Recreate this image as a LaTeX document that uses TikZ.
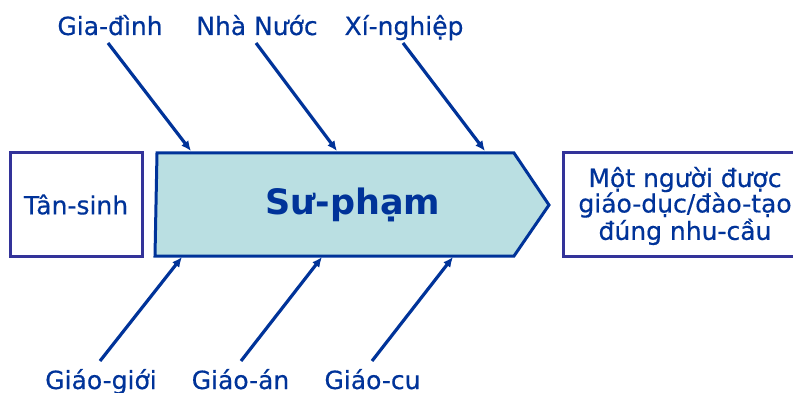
\documentclass[tikz,border=0pt]{standalone}
\usepackage{fontspec}
\setmainfont{DejaVu Sans}[UprightFeatures={FakeBold=0.5}]
\usetikzlibrary{arrows.meta}
\definecolor{txtblue}{RGB}{0,51,153}
\definecolor{boxpurple}{RGB}{51,51,153}
\definecolor{lightfill}{RGB}{186,223,226}
\tikzset{
  lbl/.style={text=txtblue, font=\fontsize{25}{25}\selectfont, inner sep=0pt, anchor=base},
  arr/.style={draw=txtblue, line width=3.2pt, -{Latex[length=10pt,width=9pt]}},
  sidebox/.style={draw=boxpurple, line width=3pt, fill=white}
}
\begin{document}
\begin{tikzpicture}[x=1pt,y=-1pt]
\useasboundingbox (0,0) rectangle (793,393);
% side boxes
\node[sidebox, minimum width=132pt, minimum height=103pt, inner sep=0pt,
      text=txtblue, font=\fontsize{25}{25}\selectfont] (ts) at (76,204.5) {Tân-sinh};
\draw[sidebox] (563,153) rectangle (815,256);
\node[text=txtblue, font=\fontsize{25}{25.5}\selectfont, align=center, inner sep=0pt] (res) at (685,206)
  {Một người được\\giáo-dục/đào-tạo\\đúng nhu-cầu};
% main arrow shape
\draw[draw=txtblue, line width=3pt, fill=lightfill, line join=miter]
  (157,153) -- (514,153) -- (549,205) -- (514,256) -- (155,256) -- cycle;
\node[text=txtblue, font=\bfseries\fontsize{35}{35}\selectfont, inner sep=0pt] (sp) at (353,205) {Sư-phạm};
% top labels
\node[lbl] (gd) at (110,35) {Gia-đình};
\node[lbl] (nn) at (257,35) {Nhà Nước};
\node[lbl] (xn) at (404,35) {Xí-nghiệp};
% bottom labels
\node[lbl] (gg) at (101,389) {Giáo-giới};
\node[lbl] (ga) at (240.5,389) {Giáo-án};
\node[lbl] (gc) at (372.5,389) {Giáo-cu};
% arrow endpoints
\coordinate (gds) at (108,43);  \coordinate (gde) at (191,151);
\coordinate (nns) at (256,43);  \coordinate (nne) at (337,151);
\coordinate (xns) at (403,43);  \coordinate (xne) at (485,151);
\coordinate (ggs) at (100,361); \coordinate (gge) at (182,257);
\coordinate (gas) at (241,361); \coordinate (gae) at (322,257);
\coordinate (gcs) at (372,361); \coordinate (gce) at (453,257);
\draw[arr] (gds) -- (gde);
\draw[arr] (nns) -- (nne);
\draw[arr] (xns) -- (xne);
\draw[arr] (ggs) -- (gge);
\draw[arr] (gas) -- (gae);
\draw[arr] (gcs) -- (gce);
\end{tikzpicture}
\end{document}
